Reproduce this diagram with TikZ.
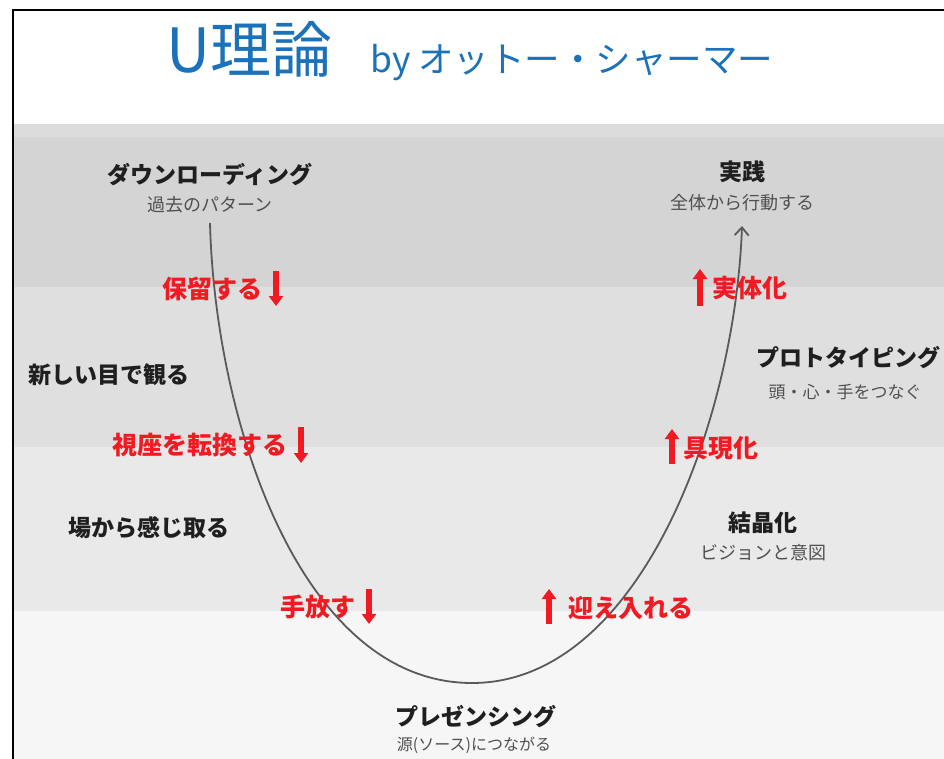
\documentclass[tikz,border=0pt]{standalone}
\usepackage{fontspec}
\setmainfont{Noto Sans CJK JP}
\usetikzlibrary{arrows.meta}
\definecolor{band1}{HTML}{D4D4D4}
\definecolor{band1top}{HTML}{DCDCDC}
\definecolor{band2}{HTML}{DFDFDF}
\definecolor{band3}{HTML}{E9E9E9}
\definecolor{band4}{HTML}{F6F6F6}
\definecolor{titleblue}{HTML}{1B72BA}
\definecolor{ured}{HTML}{F01A22}
\definecolor{subgray}{HTML}{505050}
\definecolor{curvegray}{HTML}{5A5A5A}
\tikzset{
  stage/.style={inner sep=0pt, font=\fontsize{23}{27}\selectfont\bfseries, text=black!88},
  stagesub/.style={inner sep=0pt, font=\fontsize{18}{22}\selectfont, text=subgray},
  redlabel/.style={inner sep=0pt, font=\fontsize{25}{29}\selectfont\bfseries, text=ured},
  redarrow/.style={draw=ured, line width=6pt, -{Triangle[width=14pt,length=10pt]}},
  ucurve/.style={draw=curvegray, line width=1.8pt}
}
\begin{document}
\begin{tikzpicture}[x=1pt,y=-1pt]
\useasboundingbox (0,0) rectangle (944,759);
\fill[white] (0,0) rectangle (944,759);
% bands
\fill[band1top] (13,124) rectangle (944,137);
\fill[band1] (13,137) rectangle (944,287);
\fill[band2] (13,287) rectangle (944,447);
\fill[band3] (13,447) rectangle (944,611);
\fill[band4] (13,611) rectangle (944,759);
% frame
\draw[black, line width=2.2pt] (13,759) -- (13,10) -- (944,10);
% title
\node[anchor=base west, inner sep=0pt, text=titleblue, font=\fontsize{61}{70}\selectfont] (title) at (166,73) {U理論};
\node[anchor=base west, inner sep=0pt, text=titleblue, font=\fontsize{35.5}{42}\selectfont] (byline) at (370,73) {by オットー・シャーマー};
% stage labels
\node[stage] (dl) at (210,175) {ダウンローディング};
\node[stagesub] (dlsub) at (210,205) {過去のパターン};
\node[stage] (jissen) at (742,172) {実践};
\node[stagesub] (jissensub) at (742,203) {全体から行動する};
\node[stage] (proto) at (848,358) {プロトタイピング};
\node[stagesub, font=\fontsize{17}{21}\selectfont] (protosub) at (845,392) {頭・心・手をつなぐ};
\node[stage] (kessho) at (763,523) {結晶化};
\node[stagesub] (kesshosub) at (763,553) {ビジョンと意図};
\node[stage] (pres) at (476,717) {プレゼンシング};
\node[stagesub, font=\fontsize{16}{20}\selectfont] (pressub) at (474,745) {源(ソース)につながる};
\node[stage, anchor=west] (miru) at (28,375) {新しい目で観る};
\node[stage, anchor=west] (kanji) at (68,528) {場から感じ取る};
% U curve
\coordinate (ustart) at (210,223);
\coordinate (ubottom) at (472,683);
\coordinate (uend) at (742,226);
\draw[ucurve, -{Straight Barb[length=8pt,width=14pt]}] (ustart) .. controls (215,420) and (300,683) .. (ubottom)
  .. controls (640,683) and (735,420) .. (uend);
% red labels and arrows (down)
\node[redlabel, anchor=east] (horyu) at (263,289) {保留する};
\coordinate (a1s) at (276,271); \coordinate (a1e) at (276,306);
\draw[redarrow] (a1s) -- (a1e);
\node[redlabel, anchor=east] (shiza) at (288,445) {視座を転換する};
\coordinate (a2s) at (301,427); \coordinate (a2e) at (301,463);
\draw[redarrow] (a2s) -- (a2e);
\node[redlabel, anchor=east] (tebanasu) at (356,607) {手放す};
\coordinate (a3s) at (369,589); \coordinate (a3e) at (369,624);
\draw[redarrow] (a3s) -- (a3e);
% red labels and arrows (up)
\node[redlabel, anchor=west] (jittai) at (712,288) {実体化};
\coordinate (b1s) at (700,306); \coordinate (b1e) at (700,269);
\draw[redarrow] (b1s) -- (b1e);
\node[redlabel, anchor=west] (gugen) at (683,448) {具現化};
\coordinate (b2s) at (672,464); \coordinate (b2e) at (672,429);
\draw[redarrow] (b2s) -- (b2e);
\node[redlabel, anchor=west] (mukae) at (568,608) {迎え入れる};
\coordinate (b3s) at (549,624); \coordinate (b3e) at (549,589);
\draw[redarrow] (b3s) -- (b3e);
\end{tikzpicture}
\end{document}
